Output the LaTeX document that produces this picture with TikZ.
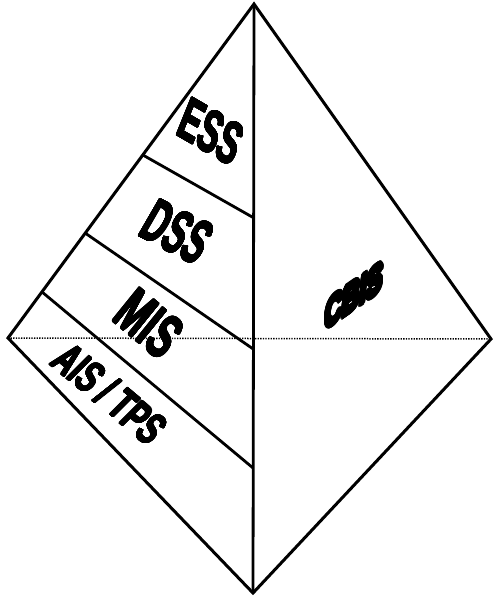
\documentclass[tikz,border=0pt]{standalone}
\usepackage{fontspec}
\setmainfont{Liberation Sans}
\usepackage[copies]{contour}
\contournumber{32}
\usetikzlibrary{calc}
\tikzset{
  edge/.style={line width=3pt, line join=miter, line cap=round},
  band/.style={line width=2.8pt},
  midline/.style={line width=1.5pt, dash pattern=on 1.3pt off 1.3pt},
  lbl/.style={inner sep=0pt, outer sep=0pt, font=\bfseries},
}
\newcommand{\heavytext}[2]{\contourlength{#1}\contour{black}{#2}}
\begin{document}
\begin{tikzpicture}[x=1pt,y=-1pt]
\useasboundingbox (0,0) rectangle (492,596);
\coordinate (apex) at (254,4);
\coordinate (L) at (8,338);
\coordinate (R) at (491,339);
\coordinate (B) at (253,593);
% band boundaries
\coordinate (a1) at ($(apex)!0.452!(L)$);
\coordinate (b1) at ($(apex)!0.363!(B)$);
\coordinate (a2) at ($(apex)!0.686!(L)$);
\coordinate (b2) at ($(apex)!0.586!(B)$);
\coordinate (a3) at ($(apex)!0.862!(L)$);
\coordinate (b3) at ($(apex)!0.788!(B)$);
% dotted base line
\draw[midline] (L) -- (R);
% outline
\draw[edge] (apex) -- (L) -- (B) -- (R) -- cycle;
\draw[band] (apex) -- (B);
\draw[band] (a1) -- (b1);
\draw[band] (a2) -- (b2);
\draw[band] (a3) -- (b3);
% labels
\node[lbl, cm={0.481,-0.278,0.375,0.927,(0,0)}] (ess) at (211,132) {\fontsize{59}{59}\selectfont\heavytext{0.7pt}{ESS}};
\node[lbl, cm={0.468,-0.238,0.5,0.866,(0,0)}] (dss) at (177,232) {\fontsize{62}{62}\selectfont\heavytext{0.7pt}{DSS}};
\node[lbl, cm={0.452,-0.379,0.629,0.777,(0,0)}] (mis) at (149,324) {\fontsize{62}{62}\selectfont\heavytext{0.7pt}{MIS}};
\node[lbl, cm={0.483,-0.405,0.707,0.707,(0,0)}] (ais) at (110,394) {\fontsize{46}{46}\selectfont\heavytext{0.6pt}{AIS / TPS}};
\node[lbl, cm={0.573,0.401,0.087,0.996,(0,0)}] (cbis) at (354,297) {\fontsize{42}{42}\selectfont\heavytext{3pt}{CBIS}};
\end{tikzpicture}
\end{document}
